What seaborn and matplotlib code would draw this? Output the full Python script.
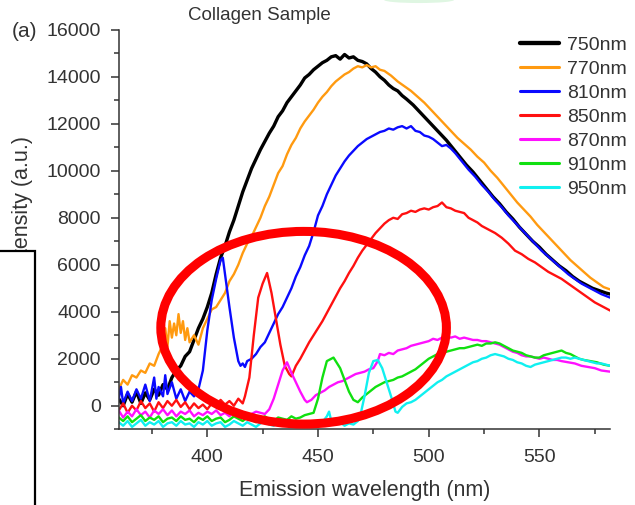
"""
Two-photon emission spectra of a collagen sample at several excitation
wavelengths, with the low-wavelength SHG peaks circled.
Writes out.png (635x505 px).
"""

import matplotlib.pyplot as plt
import matplotlib.patches as mpatches
from matplotlib.ticker import AutoMinorLocator
import seaborn as sns

# Figure settings
FIG_DPI = 100
TICK_FONTSIZE = 14
LABEL_FONTSIZE = 15.5
TEXT_COLOR = "#333333"

# Excitation wavelengths (legend) and their colours
excitation = ["750nm", "770nm", "810nm", "850nm", "870nm", "910nm", "950nm"]
colors = ["#000000", "#ff9a10", "#0a0aff", "#ff1010", "#ff10ff", "#10e010", "#10f0f0"]

x_ticks = [400, 450, 500, 550]
y_ticks = [0, 2000, 4000, 6000, 8000, 10000, 12000, 14000, 16000]

# (emission wavelength nm, intensity a.u.)
spec_750 = [
    (360, 300), (362, 0), (364, 500), (366, 150), (368, 600), (370, 100), (372, 550),
    (374, 250), (376, 700), (378, 450), (380, 900), (382, 700), (384, 1200), (386, 1500),
    (388, 1700), (390, 2100), (392, 2300), (394, 2800), (396, 3300), (398, 3700),
    (400, 4200), (402, 4800), (404, 5600), (406, 6300), (408, 6800), (410, 7400),
    (412, 7900), (414, 8500), (416, 9100), (418, 9600), (420, 10100), (422, 10500),
    (424, 10900), (426, 11250), (428, 11600), (430, 11900), (432, 12300), (434, 12550),
    (436, 12900), (438, 13150), (440, 13400), (442, 13650), (444, 13950), (446, 14100),
    (448, 14300), (450, 14450), (452, 14600), (454, 14700), (456, 14850), (458, 14900),
    (460, 14750), (462, 14950), (464, 14800), (466, 14850), (468, 14700), (470, 14650),
    (472, 14550), (474, 14350), (476, 14200), (478, 14000), (480, 13850), (482, 13650),
    (484, 13500), (486, 13400), (488, 13200), (490, 13050), (493, 12800), (496, 12500),
    (499, 12200), (502, 11900), (505, 11600), (508, 11300), (511, 10950), (514, 10600),
    (517, 10250), (520, 9950), (523, 9600), (526, 9250), (529, 8900), (532, 8600),
    (535, 8250), (538, 7950), (541, 7600), (544, 7300), (547, 7000), (550, 6750),
    (553, 6450), (556, 6200), (559, 5950), (562, 5750), (565, 5500), (568, 5300),
    (571, 5150), (574, 5000), (577, 4900), (580, 4800), (582, 4750),
]

spec_770 = [
    (360, 700), (362, 1100), (364, 900), (366, 1300), (368, 1200), (370, 1500), (372, 1400),
    (374, 1800), (376, 1700), (378, 2200), (380, 2600), (381, 3300), (382, 2500),
    (383, 3600), (384, 2900), (385, 3500), (386, 3000), (387, 3900), (388, 3100),
    (389, 3600), (390, 2800), (391, 3300), (392, 2700), (394, 3000), (396, 2600),
    (398, 3300), (400, 3700), (402, 4100), (404, 4200), (406, 4500), (408, 4800),
    (410, 5300), (412, 5600), (414, 6000), (416, 6500), (418, 6900), (420, 7200),
    (422, 7600), (424, 8000), (426, 8500), (428, 8900), (430, 9400), (432, 9900),
    (434, 10200), (436, 10700), (438, 11100), (440, 11400), (442, 11800), (444, 12100),
    (446, 12350), (448, 12600), (450, 12900), (452, 13150), (454, 13350), (456, 13600),
    (458, 13800), (460, 13950), (462, 14100), (464, 14200), (466, 14350), (468, 14450),
    (470, 14400), (472, 14500), (474, 14400), (476, 14450), (478, 14300), (480, 14250),
    (483, 14050), (486, 13800), (489, 13600), (492, 13400), (495, 13150), (498, 12900),
    (501, 12600), (504, 12300), (507, 12000), (510, 11700), (513, 11400), (516, 11150),
    (519, 10900), (522, 10600), (525, 10350), (528, 10000), (531, 9700), (534, 9350),
    (537, 9000), (540, 8650), (543, 8350), (546, 8050), (549, 7700), (552, 7400),
    (555, 7100), (558, 6800), (561, 6500), (564, 6200), (567, 5950), (570, 5700),
    (573, 5450), (576, 5250), (579, 5050), (582, 4950),
]

spec_810 = [
    (360, 300), (361, 800), (362, 100), (364, 600), (366, 200), (368, 700), (370, 300),
    (372, 900), (374, 200), (376, 1200), (377, 300), (378, 800), (380, 400), (381, 1300),
    (382, 500), (384, 1000), (386, 300), (388, 700), (390, 200), (392, 600), (394, 400),
    (396, 700), (398, 1500), (400, 3200), (402, 4500), (404, 5400), (406, 6200),
    (407, 6300), (408, 5600), (410, 4200), (412, 2900), (414, 1900), (415, 1700),
    (416, 1800), (417, 1650), (418, 1900), (420, 2000), (422, 2200), (424, 2500),
    (426, 2700), (428, 3100), (430, 3500), (432, 3900), (434, 4200), (436, 4600),
    (438, 5000), (440, 5500), (442, 5900), (444, 6400), (446, 6800), (448, 7400),
    (450, 8100), (452, 8500), (454, 9000), (456, 9400), (458, 9800), (460, 10100),
    (462, 10400), (464, 10650), (466, 10850), (468, 11050), (470, 11200), (472, 11350),
    (474, 11450), (476, 11550), (478, 11650), (480, 11700), (482, 11800), (484, 11750),
    (486, 11850), (488, 11900), (490, 11800), (492, 11900), (494, 11700), (496, 11650),
    (498, 11500), (500, 11450), (502, 11350), (504, 11200), (506, 11050), (508, 11100),
    (510, 10950), (512, 10750), (515, 10400), (518, 10050), (521, 9750), (524, 9400),
    (527, 9100), (530, 8750), (533, 8450), (536, 8100), (539, 7800), (542, 7500),
    (545, 7200), (548, 6900), (551, 6600), (554, 6350), (557, 6100), (560, 5850),
    (563, 5600), (566, 5400), (569, 5200), (572, 5050), (575, 4900), (578, 4750),
    (582, 4600),
]

spec_850 = [
    (360, -200), (362, 100), (364, -300), (366, 0), (368, -200), (370, 200), (372, -100),
    (374, 100), (376, -250), (378, 150), (380, -100), (382, 200), (384, 0), (386, 250),
    (388, -50), (390, 150), (392, -150), (394, 100), (396, -100), (398, 50), (400, -150),
    (402, 100), (404, 0), (406, 250), (408, 50), (410, 200), (412, 0), (414, 300),
    (416, 100), (417, 400), (419, 1200), (421, 3000), (423, 4600), (425, 5200),
    (427, 5650), (429, 4800), (431, 3700), (433, 2600), (435, 1700), (437, 1350),
    (438, 1250), (440, 1700), (442, 2000), (444, 2350), (446, 2700), (448, 3000),
    (450, 3300), (452, 3600), (454, 3950), (456, 4300), (458, 4650), (460, 5000),
    (462, 5300), (464, 5650), (466, 5950), (468, 6300), (470, 6600), (472, 6850),
    (474, 7100), (476, 7350), (478, 7550), (480, 7750), (482, 7900), (484, 8000),
    (486, 7950), (488, 8150), (490, 8200), (492, 8300), (494, 8250), (496, 8350),
    (498, 8400), (500, 8350), (502, 8450), (504, 8500), (506, 8650), (508, 8450),
    (510, 8400), (512, 8300), (514, 8250), (516, 8200), (518, 8000), (520, 7900),
    (522, 7800), (524, 7650), (526, 7550), (528, 7450), (530, 7350), (533, 7150),
    (536, 6900), (539, 6600), (542, 6450), (545, 6250), (548, 6100), (551, 5900),
    (554, 5700), (557, 5550), (560, 5400), (563, 5200), (566, 5000), (569, 4800),
    (572, 4600), (575, 4400), (578, 4250), (582, 4050),
]

spec_870 = [
    (360, -200), (362, -500), (364, -250), (366, -450), (368, -150), (370, -400),
    (372, -250), (374, -500), (376, -200), (378, -350), (380, -150), (382, -400),
    (384, -200), (386, -450), (388, -250), (390, -350), (392, -200), (394, -450),
    (396, -300), (398, -400), (400, -250), (402, -350), (404, -200), (406, -400),
    (408, -300), (410, -450), (412, -250), (414, -350), (416, -300), (418, -450),
    (420, -350), (422, -250), (424, -300), (426, -350), (428, -150), (430, 300),
    (432, 900), (434, 1500), (436, 1850), (438, 1400), (440, 1000), (442, 600),
    (444, 250), (445, 150), (447, 250), (449, 450), (451, 550), (453, 650), (455, 800),
    (457, 900), (459, 1000), (461, 1050), (463, 1150), (465, 1250), (467, 1350),
    (469, 1400), (471, 1450), (473, 1550), (475, 1600), (477, 1900), (478, 2200),
    (480, 2150), (482, 2250), (484, 2200), (486, 2350), (488, 2400), (490, 2450),
    (492, 2550), (494, 2600), (496, 2650), (498, 2700), (500, 2750), (502, 2850),
    (504, 2800), (506, 2900), (508, 2950), (510, 2900), (512, 2950), (514, 2850),
    (516, 2900), (518, 2850), (520, 2800), (522, 2800), (524, 2750), (526, 2750),
    (528, 2700), (530, 2650), (532, 2600), (534, 2500), (536, 2400), (538, 2300),
    (540, 2250), (542, 2150), (544, 2100), (546, 2100), (548, 2050), (550, 2000),
    (552, 2050), (554, 2000), (556, 1950), (558, 1950), (560, 1900), (563, 1850),
    (566, 1800), (569, 1700), (572, 1650), (575, 1600), (578, 1500), (582, 1450),
]

spec_910 = [
    (360, -500), (362, -650), (364, -450), (366, -700), (368, -550), (370, -400),
    (372, -650), (374, -500), (376, -600), (378, -450), (380, -700), (382, -550),
    (384, -500), (386, -650), (388, -450), (390, -600), (392, -550), (394, -700),
    (396, -500), (398, -600), (400, -450), (402, -650), (404, -550), (406, -500),
    (408, -700), (410, -600), (412, -450), (414, -550), (416, -650), (418, -500),
    (420, -600), (422, -700), (424, -550), (426, -450), (428, -600), (430, -650),
    (432, -500), (434, -550), (436, -600), (438, -450), (440, -550), (442, -500),
    (444, -400), (446, -350), (448, -300), (450, 300), (452, 1200), (454, 1900),
    (456, 2000), (457, 2050), (458, 1900), (460, 1600), (462, 1100), (464, 600),
    (466, 250), (468, 150), (470, 350), (472, 500), (474, 650), (476, 800), (478, 900),
    (480, 1000), (482, 1050), (484, 1100), (486, 1200), (488, 1250), (490, 1350),
    (492, 1450), (494, 1550), (496, 1700), (498, 1850), (500, 2000), (502, 2100),
    (504, 2200), (506, 2250), (508, 2300), (510, 2350), (512, 2400), (514, 2450),
    (516, 2450), (518, 2500), (520, 2550), (522, 2600), (524, 2550), (526, 2650),
    (528, 2650), (530, 2700), (532, 2650), (534, 2550), (536, 2450), (538, 2350),
    (540, 2300), (542, 2250), (544, 2150), (546, 2100), (548, 2050), (550, 2050),
    (552, 2150), (554, 2200), (556, 2250), (558, 2300), (560, 2350), (562, 2250),
    (564, 2200), (566, 2100), (568, 2000), (570, 1950), (573, 1900), (576, 1850),
    (579, 1750), (582, 1700),
]

spec_950 = [
    (360, -700), (362, -850), (364, -650), (366, -900), (368, -750), (370, -600),
    (372, -850), (374, -700), (376, -800), (378, -650), (380, -900), (382, -750),
    (384, -700), (386, -850), (388, -650), (390, -800), (392, -750), (394, -900),
    (396, -700), (398, -800), (400, -650), (402, -850), (404, -750), (406, -700),
    (408, -900), (410, -800), (412, -650), (414, -750), (416, -850), (418, -700),
    (420, -800), (422, -900), (424, -750), (426, -650), (428, -800), (430, -850),
    (432, -700), (434, -750), (436, -800), (438, -650), (440, -750), (442, -850),
    (444, -700), (446, -800), (448, -750), (450, -850), (452, -700), (454, -450),
    (455, -250), (456, -650), (458, -800), (460, -700), (462, -850), (464, -750),
    (466, -800), (468, -650), (469, -470), (471, 400), (473, 1400), (475, 1900),
    (477, 1950), (479, 1600), (481, 1000), (483, 400), (485, -250), (486, -300),
    (488, -50), (490, 100), (492, 150), (494, 250), (496, 400), (498, 550), (500, 700),
    (502, 850), (504, 1000), (506, 1100), (508, 1250), (510, 1350), (512, 1450),
    (514, 1550), (516, 1650), (518, 1750), (520, 1850), (522, 1900), (524, 2000),
    (526, 2050), (528, 2150), (530, 2200), (532, 2150), (534, 2100), (536, 2000),
    (538, 1950), (540, 1850), (542, 1800), (544, 1700), (546, 1650), (548, 1750),
    (550, 1800), (552, 1850), (554, 1900), (556, 1950), (558, 2000), (560, 2050),
    (562, 2050), (564, 2000), (566, 2050), (568, 2000), (570, 1950), (572, 1900),
    (574, 1850), (576, 1800), (578, 1800), (580, 1750), (582, 1700),
]

spectra = [spec_750, spec_770, spec_810, spec_850, spec_870, spec_910, spec_950]


def main():
    sns.set_style("ticks")
    plt.rcParams["font.family"] = ["Liberation Sans", "DejaVu Sans"]

    fig = plt.figure(figsize=(6.35, 5.05), dpi=FIG_DPI)
    ax = fig.add_axes([0.187, 0.150, 0.774, 0.791])

    for label, color, spec in zip(excitation, colors, spectra):
        wl = [p[0] for p in spec]
        inten = [p[1] for p in spec]
        lw = 2.4 if label == "750nm" else 1.7
        sns.lineplot(x=wl, y=inten, color=color, linewidth=lw, label=label, ax=ax)

    ax.set_xlim(360, 582)
    ax.set_ylim(-1000, 16000)
    ax.set_xticks(x_ticks)
    ax.set_yticks(y_ticks)
    ax.xaxis.set_minor_locator(AutoMinorLocator(2))
    ax.yaxis.set_minor_locator(AutoMinorLocator(2))
    ax.tick_params(axis="both", which="major", length=6, width=1.1,
                   labelsize=TICK_FONTSIZE, colors=TEXT_COLOR, pad=7)
    ax.tick_params(axis="x", which="major", pad=8)
    ax.tick_params(axis="both", which="minor", length=3.5, width=1.1, colors=TEXT_COLOR)
    sns.despine(ax=ax)
    for side in ["left", "bottom"]:
        ax.spines[side].set_color(TEXT_COLOR)
        ax.spines[side].set_linewidth(1.1)

    ax.set_xlabel("Emission wavelength (nm)", fontsize=LABEL_FONTSIZE,
                  color=TEXT_COLOR, labelpad=10)
    ax.set_ylabel("")
    fig.text(0.036, 0.597, "Intensity (a.u.)", rotation=90, ha="center", va="center",
             fontsize=LABEL_FONTSIZE, color=TEXT_COLOR)

    fig.text(0.408, 0.970, "Collagen Sample", ha="center", va="center",
             fontsize=13.5, color=TEXT_COLOR)
    fig.text(0.019, 0.937, "(a)", ha="left", va="center", fontsize=15, color=TEXT_COLOR)

    leg = ax.legend(loc="upper left", bbox_to_anchor=(0.819, 0.928),
                    bbox_transform=fig.transFigure, frameon=False, fontsize=TICK_FONTSIZE,
                    handlelength=2.0, handletextpad=0.4, labelspacing=0.33,
                    borderpad=0, borderaxespad=0)
    for txt in leg.get_texts():
        txt.set_color(TEXT_COLOR)
    for line in leg.get_lines():
        line.set_linewidth(line.get_linewidth() * 1.3)

    # red ring drawn over the SHG peaks
    ring = mpatches.Ellipse((443.5, 3320), 129, 8200, fill=False, edgecolor="#ff0000",
                            linewidth=6.5, zorder=6, clip_on=False)
    ax.add_patch(ring)

    # white box with black frame covering the lower left of the figure
    box = mpatches.Rectangle((-0.02, -0.02), 0.0751, 0.523, transform=fig.transFigure,
                             facecolor="white", edgecolor="black", linewidth=1.6,
                             zorder=10)
    fig.add_artist(box)

    # faint green smudge cut at the top edge
    smudge = mpatches.Ellipse((0.66, 1.0), 0.11, 0.012, transform=fig.transFigure,
                              facecolor="#dff6e2", edgecolor="none", zorder=1)
    fig.add_artist(smudge)

    fig.savefig("out.png", dpi=FIG_DPI)
    plt.close(fig)


if __name__ == "__main__":
    main()
